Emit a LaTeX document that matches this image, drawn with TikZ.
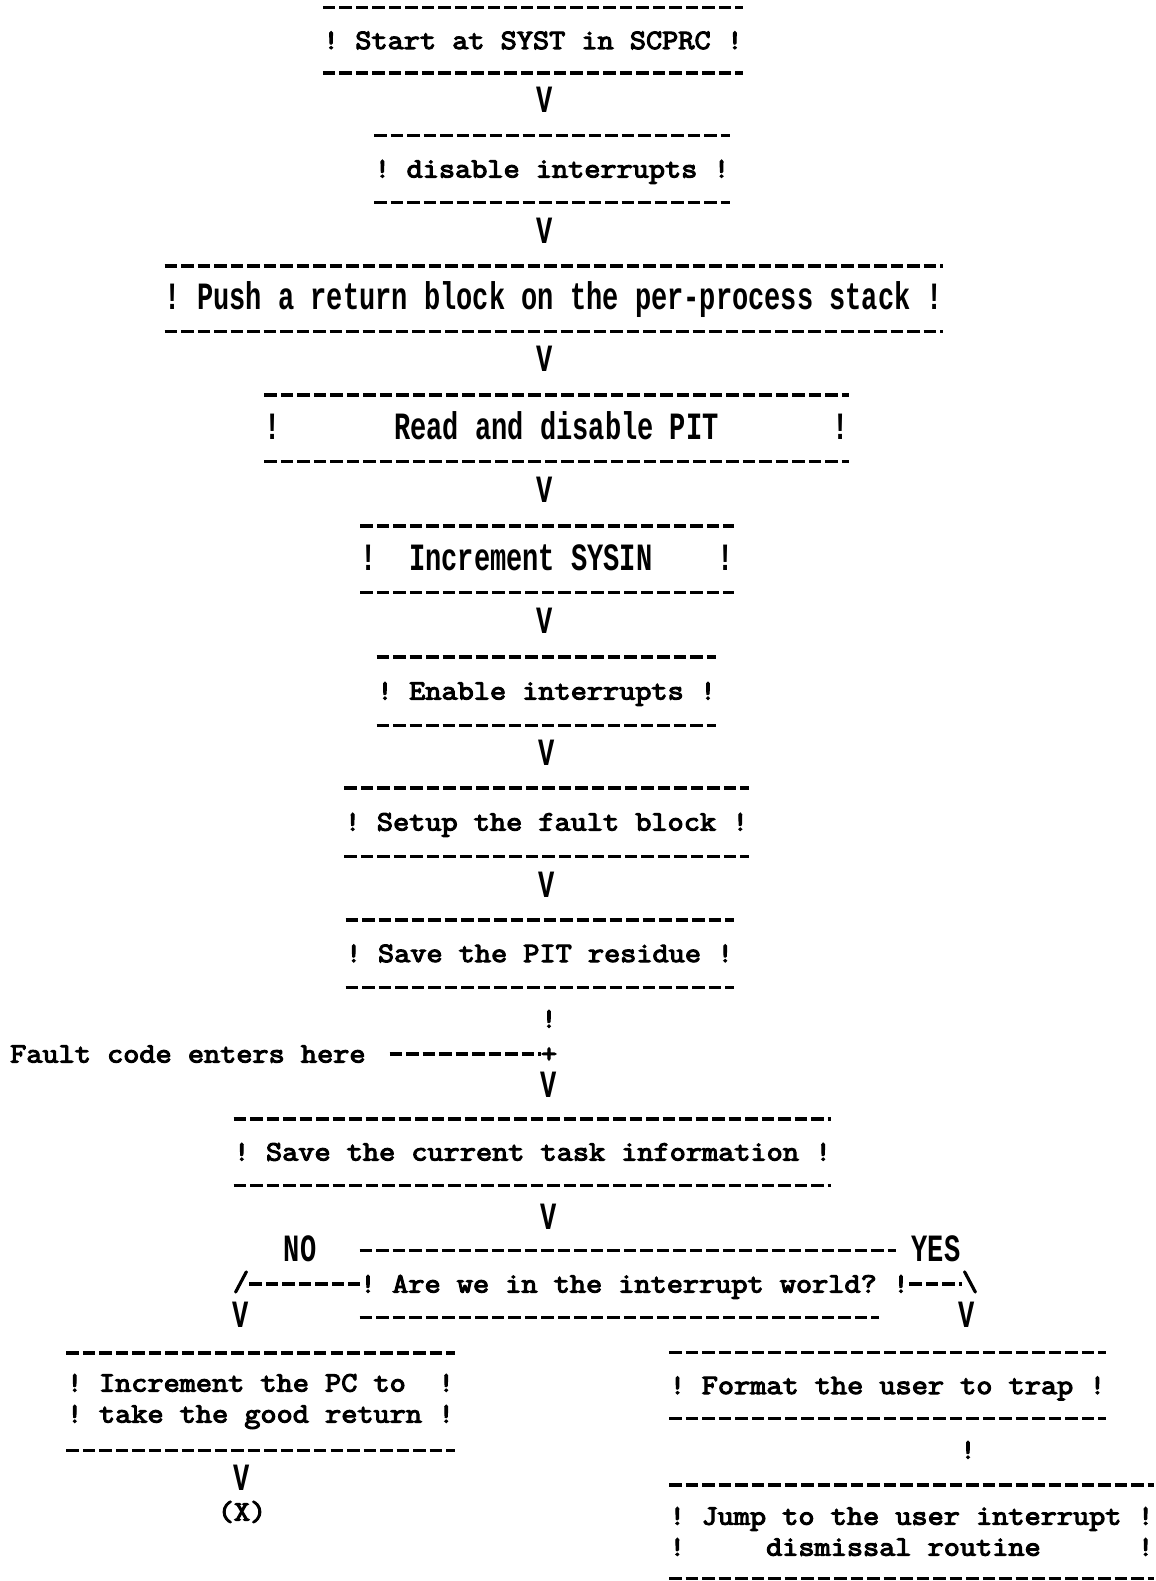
\documentclass[tikz,border=0pt]{standalone}
\usepackage{fontspec}
\newfontfamily\typefont{Latin Modern Mono}[FakeStretch=1.12, FakeBold=4]
\newfontfamily\condfont{Liberation Mono Bold}[FakeStretch=0.70]
\frenchspacing
\tikzset{
  typed/.style ={font=\typefont\fontsize{28}{31}\selectfont, inner sep=0pt,
                 text height=17pt, text depth=0pt},
  cond/.style  ={font=\condfont\fontsize{38.6}{40}\selectfont, inner sep=0pt,
                 text height=22pt, text depth=0pt},
  para/.style  ={font=\typefont\fontsize{28}{31}\selectfont, inner sep=0pt,
                 align=left},
  rule/.style  ={line width=3.4pt, dash pattern=on 12.5pt off 4pt},
  ruled/.style ={minimum height=#1, append after command={
                 (\tikzlastnode.north west) edge[rule] (\tikzlastnode.north east)
                 (\tikzlastnode.south west) edge[rule] (\tikzlastnode.south east)}},
}
\begin{document}
\begin{tikzpicture}[x=1pt, y=-1pt]
  \fill[white] (0,0) rectangle (1155,1581);
  % main column
  \node[typed, ruled=65] (syst) at (533,40.5) {! Start at SYST in SCPRC !};
  \node[cond] (v1) at (545,102) {V};
  \node[typed, ruled=66] (disint) at (552,169) {! disable interrupts !};
  \node[cond] (v2) at (545,232) {V};
  \node[cond, ruled=65] (push) at (554,298.5)
    {! Push a return block on the per-process stack !};
  \node[cond] (v3) at (545,360) {V};
  \node[cond, ruled=66] (readpit) at (556.5,428)
    {!~~~~~~~Read and disable PIT~~~~~~~!};
  \node[cond] (v4) at (545,491) {V};
  \node[cond, ruled=66] (sysin) at (547,559) {!~~Increment SYSIN~~~~!};
  \node[cond] (v5) at (545,622) {V};
  \node[typed, ruled=68] (enint) at (546.5,691) {! Enable interrupts !};
  \node[cond] (v6) at (547,754) {V};
  \node[typed, ruled=68] (fblock) at (546.5,822) {! Setup the fault block !};
  \node[cond] (v7) at (547,886) {V};
  \node[typed, ruled=67] (residue) at (539.5,953.5) {! Save the PIT residue !};
  \node[typed] (bar8) at (549,1019) {!};
  % fault code joins here
  \node[typed, anchor=west] (entry) at (10,1054) {Fault code enters here};
  \node[typed] (join) at (549,1054) {+};
  \draw[rule] ([xshift=24pt]entry.east) -- (join.west);
  \node[cond] (v8) at (549,1086) {V};
  \node[typed, ruled=66] (task) at (532.5,1152)
    {! Save the current task information !};
  \node[cond] (v9) at (549,1218) {V};
  % the test
  \node[typed, minimum height=67] (ask) at (634.5,1284)
    {! Are we in the interrupt world? !};
  \draw[rule] (ask.north west) -- +(536,0);
  \draw[rule] (ask.south west) -- +(519,0);
  \node[cond] (no) at (300,1250) {NO};
  \node[cond] (yes) at (936,1250) {YES};
  \node[typed] (lsl) at (241,1282) {/};
  \node[typed] (rsl) at (970,1282) {\textbackslash};
  \draw[rule] (lsl.east |- ask.west) -- (ask.west);
  \draw[rule] (ask.east) -- (rsl.west |- ask.east);
  \node[cond] (vl) at (241,1316) {V};
  \node[cond] (vr) at (967,1316) {V};
  % NO branch
  \node[para, ruled=97] (incpc) at (260.5,1401.5)
    {! Increment the PC to~~!\\! take the good return !};
  \node[cond] (v10) at (242,1479) {V};
  \node[typed] (exit) at (242,1512) {(X)};
  % YES branch
  \node[typed, ruled=66] (format) at (887.5,1385.5) {! Format the user to trap !};
  \node[typed] (bar9) at (968,1450) {!};
  \node[para, ruled=93] (jump) at (911.5,1531.5)
    {! Jump to the user interrupt !\\!~~~~~dismissal routine~~~~~~!};
\end{tikzpicture}
\end{document}
